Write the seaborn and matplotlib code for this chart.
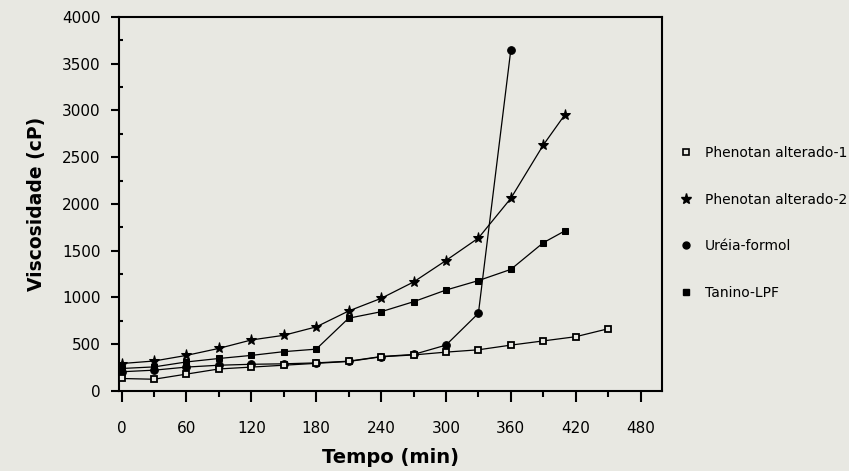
import matplotlib
matplotlib.use("Agg")
import matplotlib.pyplot as plt
from matplotlib.lines import Line2D
from matplotlib.ticker import MultipleLocator
import seaborn as sns
import pandas as pd

# dados (tempo em min, viscosidade em cP)
tempo_p1 = [0, 30, 60, 90, 120, 150, 180, 210, 240, 270, 300, 330, 360, 390, 420, 450]
visc_p1 = [133, 125, 180, 235, 255, 275, 295, 315, 365, 385, 415, 440, 490, 535, 580, 665]

tempo_p2 = [0, 30, 60, 90, 120, 150, 180, 210, 240, 270, 300, 330, 360, 390, 410]
visc_p2 = [293, 320, 380, 455, 545, 595, 685, 855, 990, 1165, 1395, 1635, 2060, 2630, 2955]

tempo_uf = [0, 30, 60, 90, 120, 150, 180, 210, 240, 270, 300, 330, 360]
visc_uf = [205, 222, 255, 275, 285, 290, 300, 318, 368, 390, 490, 830, 3650]

tempo_tan = [0, 30, 60, 90, 120, 150, 180, 210, 240, 270, 300, 330, 360, 390, 410]
visc_tan = [240, 257, 310, 347, 380, 420, 447, 778, 847, 954, 1079, 1180, 1300, 1585, 1712]

nomes = ["Phenotan alterado-1", "Phenotan alterado-2", "Uréia-formol", "Tanino-LPF"]
xticks = [0, 60, 120, 180, 240, 300, 360, 420, 480]
yticks = [0, 500, 1000, 1500, 2000, 2500, 3000, 3500, 4000]

fundo = "#e8e8e2"

sns.set_style("ticks")
plt.rcParams["font.family"] = ["DejaVu Sans"]
# tudo em preto como no original
plt.rcParams["text.color"] = "black"
plt.rcParams["axes.labelcolor"] = "black"
plt.rcParams["xtick.color"] = "black"
plt.rcParams["ytick.color"] = "black"

fig = plt.figure(figsize=(8.49, 4.71), dpi=100, facecolor=fundo)
ax = fig.add_axes([0.140, 0.170, 0.640, 0.794])
ax.set_facecolor(fundo)

# uma chamada por serie, cada uma com seu marcador
sns.lineplot(x=tempo_p1, y=visc_p1, color="black", linewidth=0.9, marker="s",
             markersize=4.5, markerfacecolor=fundo, markeredgecolor="black",
             markeredgewidth=1.3, ax=ax, zorder=4)
sns.lineplot(x=tempo_p2, y=visc_p2, color="black", linewidth=0.9, marker="*",
             markersize=8, markerfacecolor="black", markeredgecolor="black", ax=ax)
sns.lineplot(x=tempo_uf, y=visc_uf, color="black", linewidth=0.9, marker="o",
             markersize=5.5, markerfacecolor="black", markeredgecolor="black", ax=ax)
sns.lineplot(x=tempo_tan, y=visc_tan, color="black", linewidth=0.9, marker="s",
             markersize=5, markerfacecolor="black", markeredgecolor="black", ax=ax)

ax.set_xlim(-2.5, 500)
ax.set_ylim(0, 4000)
ax.set_xticks(xticks)
ax.set_yticks(yticks)
ax.xaxis.set_minor_locator(MultipleLocator(30))
ax.yaxis.set_minor_locator(MultipleLocator(250))

ax.tick_params(axis="x", which="major", direction="out", length=8, width=1.5,
               pad=14, labelsize=11)
ax.tick_params(axis="x", which="minor", direction="out", length=4.5, width=1.5)
ax.tick_params(axis="y", which="major", direction="out", length=6, width=1.5,
               pad=7, labelsize=11)
ax.tick_params(axis="y", which="minor", direction="in", length=3, width=1.5)

for s in ax.spines.values():
    s.set_linewidth(1.5)
    s.set_color("black")
    s.set_visible(True)

ax.set_xlabel("Tempo (min)", fontsize=14, fontweight="bold", labelpad=8)
ax.set_ylabel("Viscosidade (cP)", fontsize=13.5, fontweight="bold", labelpad=12)

# legenda so com os marcadores, fora do grafico
handles = [
    Line2D([], [], linestyle="none", marker="s", markersize=4, markerfacecolor=fundo,
           markeredgecolor="black", markeredgewidth=1.2),
    Line2D([], [], linestyle="none", marker="*", markersize=8, color="black"),
    Line2D([], [], linestyle="none", marker="o", markersize=5, color="black"),
    Line2D([], [], linestyle="none", marker="s", markersize=5, color="black"),
]
fig.legend(handles, nomes, loc="upper left", bbox_to_anchor=(0.800, 0.69),
           frameon=False, fontsize=10, handlelength=1.0, handletextpad=0.86,
           labelspacing=2.35, borderpad=0, borderaxespad=0)

fig.savefig("out.png", dpi=100, facecolor=fundo)
